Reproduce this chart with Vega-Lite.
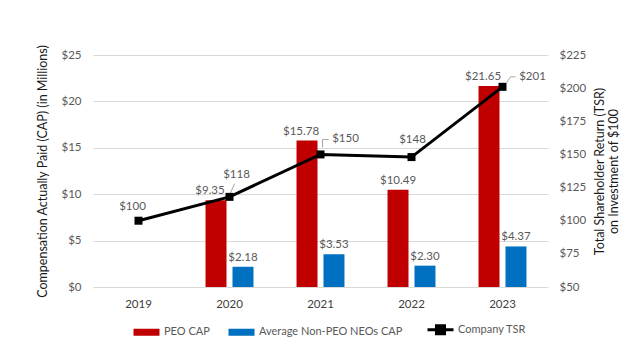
{
  "$schema": "https://vega.github.io/schema/vega-lite/v6.json",
  "width": 455,
  "height": 232,
  "autosize": {"type": "none"},
  "padding": {"left": 93, "top": 55, "right": 91, "bottom": 66},
  "config": {
    "font": "Lato",
    "view": {"stroke": null},
    "text": {"font": "Lato", "fontSize": 11.5, "color": "#595959"},
    "rule": {"color": "#a6a6a6", "strokeWidth": 1},
    "axisY": {"labelOverlap": false}
  },
  "datasets": {
    "cap": [
      {"year": "2020", "series": "PEO CAP", "value": 9.35},
      {"year": "2020", "series": "Average Non-PEO NEOs CAP", "value": 2.18},
      {"year": "2021", "series": "PEO CAP", "value": 15.78},
      {"year": "2021", "series": "Average Non-PEO NEOs CAP", "value": 3.53},
      {"year": "2022", "series": "PEO CAP", "value": 10.49},
      {"year": "2022", "series": "Average Non-PEO NEOs CAP", "value": 2.30},
      {"year": "2023", "series": "PEO CAP", "value": 21.65},
      {"year": "2023", "series": "Average Non-PEO NEOs CAP", "value": 4.37}
    ],
    "tsr": [
      {"year": "2019", "tsr": 100},
      {"year": "2020", "tsr": 118},
      {"year": "2021", "tsr": 150},
      {"year": "2022", "tsr": 148},
      {"year": "2023", "tsr": 201}
    ]
  },
  "layer": [
    {
      "data": {"name": "cap"},
      "encoding": {
        "x": {
          "field": "year", "type": "nominal", "title": null,
          "scale": {"domain": ["2019", "2020", "2021", "2022", "2023"], "paddingInner": 0.473, "paddingOuter": 0.2365},
          "axis": {"labelAngle": 0, "labelFont": "Lato", "labelFontSize": 11.5, "labelColor": "#404040", "labelPadding": 11, "domain": false, "ticks": false, "grid": false}
        },
        "xOffset": {
          "field": "series", "type": "nominal",
          "scale": {"domain": ["PEO CAP", "Average Non-PEO NEOs CAP"], "paddingInner": 0.222, "paddingOuter": 0}
        },
        "y": {
          "field": "value", "type": "quantitative",
          "scale": {"domain": [0, 25], "nice": false},
          "axis": {
            "orient": "left",
            "title": "Compensation Actually Paid (CAP) (in Millions)",
            "values": [0, 5, 10, 15, 20, 25], "format": "$d",
            "labelFont": "Lato", "labelFontSize": 11.5, "labelColor": "#595959", "labelPadding": 12,
            "domain": false, "ticks": false, "grid": true, "gridColor": "#d9d9d9", "gridWidth": 1,
            "titleFont": "Lato", "titleFontSize": 12.5, "titleFontWeight": "normal", "titleColor": "#1a1a1a", "titlePadding": 11
          }
        }
      },
      "layer": [
        {
          "mark": {"type": "bar"},
          "encoding": {
            "color": {
              "field": "series", "type": "nominal",
              "scale": {"domain": ["PEO CAP", "Average Non-PEO NEOs CAP", "Company TSR"], "range": ["#c00000", "#0070c0", "#000000"]},
              "legend": {
                "orient": "none", "legendX": 40, "legendY": 269, "padding": 0,
                "direction": "horizontal", "title": null,
                "labelFont": "Lato", "labelFontSize": 11, "labelColor": "#595959",
                "columnPadding": 18, "labelOffset": 20,
                "encode": {
                  "symbols": {
                    "update": {
                      "shape": {"signal": "datum.label === 'Company TSR' ? 'M-0.385,0H1.615M0.305,-0.31H0.925V0.31H0.305Z' : 'M-0.385,-0.27H1.615V0.27H-0.385Z'"},
                      "size": {"value": 676},
                      "strokeWidth": {"signal": "datum.label === 'Company TSR' ? 3 : 0"},
                      "fill": {"scale": "color", "field": "value"},
                      "stroke": {"scale": "color", "field": "value"},
                      "opacity": {"value": 1},
                      "fillOpacity": {"value": 1},
                      "strokeOpacity": {"value": 1}
                    }
                  }
                }
              }
            }
          }
        },
        {
          "transform": [{"filter": "datum.series !== 'PEO CAP' || datum.year === '2022'"}],
          "mark": {"type": "text", "baseline": "bottom", "dy": -4},
          "encoding": {
            "text": {"field": "value", "type": "quantitative", "format": "$.2f"}
          }
        },
        {
          "transform": [{"filter": "datum.series === 'PEO CAP' && datum.year !== '2022'"}],
          "mark": {"type": "text", "baseline": "bottom", "dy": -4, "dx": -6},
          "encoding": {
            "text": {"field": "value", "type": "quantitative", "format": "$.2f"}
          }
        }
      ]
    },
    {
      "data": {"name": "tsr"},
      "encoding": {
        "x": {"field": "year", "type": "nominal", "scale": {"domain": ["2019", "2020", "2021", "2022", "2023"], "paddingInner": 0.473, "paddingOuter": 0.2365}},
        "y": {
          "field": "tsr", "type": "quantitative",
          "scale": {"domain": [50, 225], "nice": false},
          "axis": {
            "orient": "right",
            "title": ["Total Shareholder Return (TSR)", "on Investment of $100"],
            "values": [50, 75, 100, 125, 150, 175, 200, 225], "format": "$d", "labelOverlap": false,
            "labelFont": "Lato", "labelFontSize": 11.5, "labelColor": "#595959", "labelPadding": 11,
            "domain": false, "ticks": false, "grid": false,
            "titleAngle": 270,
            "titleFont": "Lato", "titleFontSize": 12.5, "titleFontWeight": "normal", "titleColor": "#1a1a1a", "titlePadding": 6
          }
        }
      },
      "layer": [
        {
          "transform": [{"filter": "datum.year === '2020'"}],
          "mark": {"type": "rule", "xOffset": 1, "yOffset": -4, "x2Offset": 5, "y2Offset": -13},
          "encoding": {"x2": {"field": "year"}, "y2": {"field": "tsr"}}
        },
        {
          "transform": [{"filter": "datum.year === '2021'"}],
          "mark": {"type": "rule", "xOffset": 2, "yOffset": -7, "x2Offset": 2, "y2Offset": -15},
          "encoding": {"x2": {"field": "year"}, "y2": {"field": "tsr"}}
        },
        {
          "transform": [{"filter": "datum.year === '2021'"}],
          "mark": {"type": "rule", "xOffset": 2, "yOffset": -15, "x2Offset": 8, "y2Offset": -15},
          "encoding": {"x2": {"field": "year"}, "y2": {"field": "tsr"}}
        },
        {
          "transform": [{"filter": "datum.year === '2023'"}],
          "mark": {"type": "rule", "xOffset": 4, "yOffset": -4, "x2Offset": 8, "y2Offset": -10},
          "encoding": {"x2": {"field": "year"}, "y2": {"field": "tsr"}}
        },
        {
          "transform": [{"filter": "datum.year === '2023'"}],
          "mark": {"type": "rule", "xOffset": 8, "yOffset": -10, "x2Offset": 13, "y2Offset": -10},
          "encoding": {"x2": {"field": "year"}, "y2": {"field": "tsr"}}
        },
        {
          "mark": {"type": "line", "strokeWidth": 3, "point": {"shape": "square", "size": 64, "filled": true, "color": "#000000", "opacity": 1}},
          "encoding": {
            "color": {"datum": "Company TSR", "type": "nominal"}
          }
        },
        {
          "transform": [{"filter": "datum.year === '2019'"}],
          "mark": {"type": "text", "baseline": "middle", "dx": -6, "dy": -14},
          "encoding": {"text": {"field": "tsr", "type": "quantitative", "format": "$d"}}
        },
        {
          "transform": [{"filter": "datum.year === '2022'"}],
          "mark": {"type": "text", "baseline": "middle", "dx": 1, "dy": -17},
          "encoding": {"text": {"field": "tsr", "type": "quantitative", "format": "$d"}}
        },
        {
          "transform": [{"filter": "datum.year === '2020'"}],
          "mark": {"type": "text", "baseline": "middle", "dx": 7, "dy": -22},
          "encoding": {"text": {"field": "tsr", "type": "quantitative", "format": "$d"}}
        },
        {
          "transform": [{"filter": "datum.year === '2021'"}],
          "mark": {"type": "text", "baseline": "middle", "dx": 25, "dy": -15},
          "encoding": {"text": {"field": "tsr", "type": "quantitative", "format": "$d"}}
        },
        {
          "transform": [{"filter": "datum.year === '2023'"}],
          "mark": {"type": "text", "baseline": "middle", "dx": 30, "dy": -10},
          "encoding": {"text": {"field": "tsr", "type": "quantitative", "format": "$d"}}
        }
      ]
    }
  ],
  "resolve": {"scale": {"y": "independent"}}
}
